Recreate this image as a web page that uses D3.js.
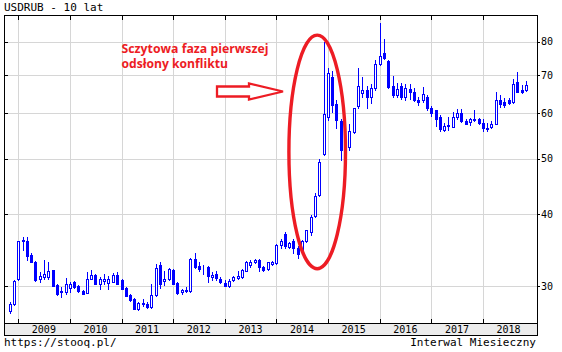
<!DOCTYPE html>
<html lang="pl">
<head>
<meta charset="UTF-8">
<title>USDRUB - 10 lat</title>
<script src="https://d3js.org/d3.v7.min.js"></script>
<style>
  body { margin: 0; background: #fff; }
  svg { display: block; }
  .mono { font-family: "DejaVu Sans Mono", monospace; fill: #000; }
  .grid line { stroke: #d6d6d6; stroke-width: 1; shape-rendering: crispEdges; }
  .tick line { stroke: #000; stroke-width: 1; shape-rendering: crispEdges; }
  .wick { stroke: #0000ff; stroke-width: 1; shape-rendering: crispEdges; }
  .body { stroke: #0000ff; stroke-width: 1; shape-rendering: crispEdges; }
  .body.up { fill: #fff; }
  .body.down { fill: #0000ff; }
  .note { font-family: "Open Sans", "Noto Sans", sans-serif; font-weight: bold; font-size: 13px; fill: #ed1c24; }
</style>
</head>
<body>
<div id="chart"></div>
<script>
// monthly candles, first one is Nov 2008, last one Nov 2018
const firstMonth = new Date(2008, 10, 1);

const open = [
  27.1, 27.9,
  30.8, 35.9, 36.0, 34.0, 33.1, 30.8, 31.1, 31.1, 32.0, 30.1, 29.3, 29.3,
  29.8, 30.45, 30.0, 29.4, 29.2, 30.9, 31.4, 30.2, 30.6, 30.4, 30.5, 31.4,
  30.7, 29.8, 28.9, 28.5, 27.4, 28.0, 27.9, 27.6, 28.9, 32.6, 30.6, 30.9,
  32.0, 30.4, 29.3, 29.4, 29.4, 33.4, 32.5, 32.3, 32.4, 31.15, 31.5, 30.9,
  30.35, 29.95, 30.7, 31.0, 31.1, 31.9, 32.7, 33.0, 33.3, 32.4, 32.1, 32.8,
  32.9, 35.3, 36.9, 35.1, 36.0, 35.0, 34.6, 35.9, 37.2, 39.8, 43.2, 50.9,
  59.2, 69.4, 62.2, 58.2, 51.8, 52.4, 55.7, 61.9, 65.1, 65.8, 64.1, 66.3,
  73.1, 76.3, 74.1, 67.0, 64.6, 67.0, 64.1, 66.2, 65.5, 63.3, 63.2, 64.1,
  61.4, 60.7, 59.2, 56.1, 57.0, 56.9, 59.1, 60.0, 58.3, 58.0, 58.6, 58.6,
  57.8, 56.4, 56.8, 57.6, 63.3, 62.7, 63.3, 62.7, 68.0, 65.9, 65.8
];
const high = [
  28.1, 30.7,
  36.0, 36.5, 36.5, 34.2, 33.2, 31.7, 33.3, 33.0, 32.05, 30.3, 29.9, 31.0,
  30.5, 30.6, 30.1, 29.5, 31.7, 32.0, 31.5, 31.15, 31.5, 31.2, 31.6, 31.7,
  30.8, 29.9, 29.0, 28.6, 28.1, 28.5, 28.1, 30.2, 32.8, 33.0, 31.9, 32.2,
  32.1, 30.5, 29.7, 29.85, 33.6, 34.3, 33.1, 32.6, 32.5, 31.7, 31.9, 31.1,
  30.7, 30.8, 31.2, 31.9, 32.1, 33.2, 33.3, 33.4, 33.4, 32.5, 33.1, 33.2,
  35.5, 36.3, 37.2, 35.8, 36.2, 35.2, 36.1, 37.6, 39.9, 43.6, 50.0, 79.8,
  71.9, 71.2, 63.4, 58.7, 53.5, 57.5, 61.4, 71.9, 69.4, 67.0, 67.4, 74.4,
  86.4, 80.9, 74.3, 69.7, 67.8, 67.8, 67.6, 67.6, 66.3, 64.1, 66.6, 64.6,
  61.9, 60.8, 59.6, 57.8, 59.2, 60.4, 61.0, 61.0, 58.7, 58.8, 60.8, 59.0,
  58.6, 57.8, 58.1, 65.5, 64.6, 63.9, 63.9, 68.9, 70.8, 67.1, 68.3
];
const low = [
  26.9, 27.8,
  30.7, 34.7, 33.3, 33.0, 30.6, 30.5, 30.9, 30.9, 29.95, 28.9, 28.7, 29.1,
  29.3, 29.8, 29.3, 29.0, 29.2, 30.8, 30.2, 29.7, 30.2, 29.7, 30.5, 30.3,
  29.6, 28.8, 28.3, 27.3, 27.2, 27.7, 27.5, 27.5, 28.8, 29.8, 30.1, 30.7,
  30.2, 29.0, 29.05, 29.25, 29.3, 32.2, 31.8, 31.5, 30.5, 30.7, 30.7, 30.4,
  30.0, 29.9, 30.6, 30.9, 31.0, 31.8, 32.4, 32.9, 31.8, 31.8, 32.0, 32.6,
  32.8, 34.9, 35.0, 35.0, 34.2, 33.6, 34.5, 35.8, 36.8, 39.6, 43.1, 50.8,
  58.4, 60.3, 56.5, 49.8, 49.9, 51.8, 55.4, 61.2, 64.1, 61.2, 62.6, 65.9,
  72.8, 74.5, 66.5, 64.1, 64.2, 63.6, 63.4, 63.6, 63.0, 62.0, 62.9, 60.7,
  59.4, 57.0, 55.9, 55.9, 56.1, 56.7, 58.6, 58.0, 57.4, 57.3, 58.3, 57.6,
  55.9, 56.0, 56.6, 57.4, 61.6, 61.6, 62.2, 62.5, 65.3, 65.2, 65.6
];
const close = [
  27.9, 30.6,
  35.9, 36.1, 33.9, 33.1, 30.7, 31.2, 31.5, 31.9, 30.0, 29.05, 29.4, 30.2,
  30.3, 29.9, 29.4, 29.1, 30.9, 31.4, 30.3, 30.85, 30.8, 30.9, 31.4, 30.3,
  29.7, 28.8, 28.4, 27.4, 28.0, 27.9, 27.6, 28.9, 32.2, 30.3, 30.8, 32.1,
  30.3, 29.2, 29.5, 29.5, 33.4, 32.4, 32.1, 32.2, 31.2, 31.4, 31.0, 30.5,
  30.05, 30.6, 31.1, 31.2, 32.0, 33.0, 33.0, 33.3, 32.4, 32.05, 33.0, 33.1,
  35.4, 36.0, 35.2, 35.6, 35.0, 34.1, 35.9, 37.5, 39.5, 43.1, 49.4, 59.8,
  70.5, 62.0, 58.4, 51.8, 52.9, 55.9, 61.2, 67.0, 65.9, 64.1, 66.3, 73.1,
  75.6, 74.9, 66.8, 64.6, 66.2, 64.1, 66.3, 65.3, 63.2, 62.8, 64.9, 61.2,
  60.2, 58.6, 56.4, 57.1, 57.3, 59.2, 60.2, 58.1, 57.6, 58.6, 58.4, 57.8,
  56.6, 56.6, 57.6, 63.4, 62.4, 62.0, 62.5, 67.4, 65.5, 65.5, 67.3
];

const yTicks = [30, 40, 50, 60, 70, 80];
const years = [2009, 2010, 2011, 2012, 2013, 2014, 2015, 2016, 2017, 2018];

const W = 562, H = 352;
const plotLeft = 4, plotRight = 537, plotTop = 15, plotBottom = 323, bandBottom = 335;

const svg = d3.select("#chart")
  .append("svg")
  .attr("width", W)
  .attr("height", H);

const x = d3.scaleTime()
  .domain([new Date(2009, 0, 1), new Date(2018, 0, 1)])
  .range([18.3, 483]);

const y = d3.scaleLog()
  .domain([30, 80])
  .range([286, 41.7]);

const px = v => Math.round(v) + 0.5;

// title
svg.append("text")
  .attr("class", "mono")
  .attr("x", 4)
  .attr("y", 11)
  .attr("font-size", 11)
  .text("USDRUB - 10 lat");

// gridlines
const grid = svg.append("g").attr("class", "grid");
grid.selectAll("line.v")
  .data(years)
  .join("line")
  .attr("class", "v")
  .attr("x1", d => px(x(new Date(d, 0, 1))))
  .attr("x2", d => px(x(new Date(d, 0, 1))))
  .attr("y1", plotTop)
  .attr("y2", plotBottom);
grid.selectAll("line.h")
  .data(yTicks)
  .join("line")
  .attr("class", "h")
  .attr("x1", plotLeft)
  .attr("x2", plotRight)
  .attr("y1", d => px(y(d)))
  .attr("y2", d => px(y(d)));

// bottom band for year labels
svg.append("rect")
  .attr("x", plotLeft + 0.5)
  .attr("y", plotBottom + 0.5)
  .attr("width", plotRight - plotLeft)
  .attr("height", bandBottom - plotBottom)
  .attr("fill", "#ececec")
  .attr("stroke", "#000")
  .attr("shape-rendering", "crispEdges");

// candles
const data = open.map((o, i) => ({
  date: d3.timeMonth.offset(firstMonth, i),
  o: o, h: high[i], l: low[i], c: close[i]
}));

const candles = svg.append("g")
  .selectAll("g")
  .data(data)
  .join("g");

candles.append("line")
  .attr("class", "wick")
  .attr("x1", d => px(x(d.date)))
  .attr("x2", d => px(x(d.date)))
  .attr("y1", d => Math.round(y(d.h)))
  .attr("y2", d => Math.round(y(d.l)) + 1);

candles.append("rect")
  .attr("class", d => "body " + (d.c >= d.o ? "up" : "down"))
  .attr("x", d => Math.round(x(d.date)) - 0.5)
  .attr("width", 2)
  .attr("y", d => px(y(Math.max(d.o, d.c))))
  .attr("height", d => Math.round(y(Math.min(d.o, d.c))) - Math.round(y(Math.max(d.o, d.c))));

// plot frame
svg.append("rect")
  .attr("x", plotLeft + 0.5)
  .attr("y", plotTop + 0.5)
  .attr("width", plotRight - plotLeft)
  .attr("height", plotBottom - plotTop)
  .attr("fill", "none")
  .attr("stroke", "#000")
  .attr("shape-rendering", "crispEdges");

// small tick marks
const ticks = svg.append("g").attr("class", "tick");
years.forEach(yr => {
  const xx = px(x(new Date(yr, 0, 1)));
  ticks.append("line").attr("x1", xx).attr("x2", xx).attr("y1", plotTop).attr("y2", plotTop + 5);
  ticks.append("line").attr("x1", xx).attr("x2", xx).attr("y1", plotBottom - 4).attr("y2", plotBottom);
});
yTicks.forEach(v => {
  const yy = px(y(v));
  ticks.append("line").attr("x1", plotLeft).attr("x2", plotLeft + 4).attr("y1", yy).attr("y2", yy);
  ticks.append("line").attr("x1", plotRight).attr("x2", plotRight + 3).attr("y1", yy).attr("y2", yy);
});

// right axis labels
svg.append("g")
  .selectAll("text")
  .data(yTicks)
  .join("text")
  .attr("class", "mono")
  .attr("font-size", 10)
  .attr("x", 541)
  .attr("y", d => y(d) + 3.7)
  .text(d => d);

// year labels in the band
svg.append("g")
  .selectAll("text")
  .data(years)
  .join("text")
  .attr("class", "mono")
  .attr("font-size", 10)
  .attr("text-anchor", "middle")
  .attr("x", d => x(new Date(d, 6, 1)))
  .attr("y", 332.5)
  .text(d => d);

// footer
svg.append("text")
  .attr("class", "mono")
  .attr("font-size", 11)
  .attr("x", 4)
  .attr("y", 346)
  .text("https://stooq.pl/");
svg.append("text")
  .attr("class", "mono")
  .attr("font-size", 11)
  .attr("text-anchor", "end")
  .attr("x", 536)
  .attr("y", 346)
  .text("Interwal Miesieczny");

// annotation
svg.append("text")
  .attr("class", "note")
  .attr("x", 121.5)
  .attr("y", 52.7)
  .attr("textLength", 147)
  .attr("lengthAdjust", "spacingAndGlyphs")
  .text("Sczytowa faza pierwszej");
svg.append("text")
  .attr("class", "note")
  .attr("x", 121.5)
  .attr("y", 68.3)
  .attr("textLength", 106.5)
  .attr("lengthAdjust", "spacingAndGlyphs")
  .text("odsłony konfliktu");

svg.append("polygon")
  .attr("points", "217,86.5 249,86.5 249,83.5 283,91.5 249,99.5 249,96.5 217,96.5")
  .attr("fill", "#fff")
  .attr("stroke", "#ed1c24")
  .attr("stroke-width", 2.3);

svg.append("ellipse")
  .attr("cx", 317.2)
  .attr("cy", 151.9)
  .attr("rx", 28.3)
  .attr("ry", 116.8)
  .attr("fill", "none")
  .attr("stroke", "#ed1c24")
  .attr("stroke-width", 3.4);
</script>
</body>
</html>
